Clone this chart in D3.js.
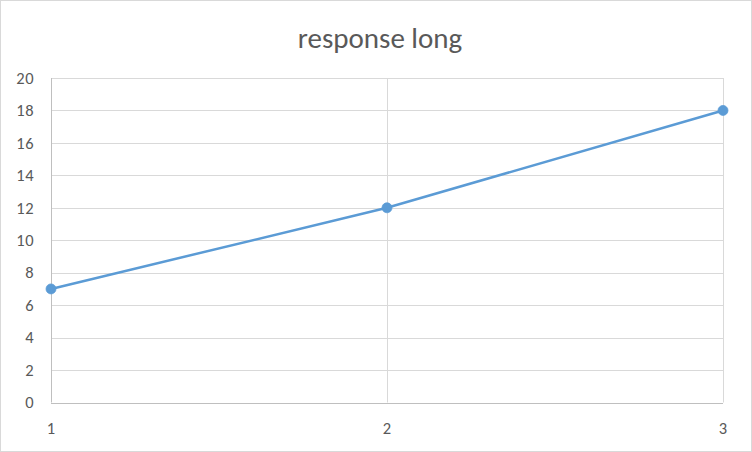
<!DOCTYPE html>
<html><head><meta charset="utf-8">
<script src="https://cdn.jsdelivr.net/npm/d3@7"></script>
<style>html,body{margin:0;padding:0;background:#fff;}</style>
</head><body>
<svg id="c" width="752" height="452"></svg>
<script>
const categories = [1, 2, 3];
const values = [7, 12, 18];
const yTicks = [0, 2, 4, 6, 8, 10, 12, 14, 16, 18, 20];
const title = "response long";

const svg = d3.select("#c");
const W = 752, H = 452;
const m = {left: 51, right: W - 723, top: 78, bottom: H - 402.5};
const font = "Calibri, Carlito, Lato, sans-serif";

svg.append("rect").attr("x", 0.5).attr("y", 0.5).attr("width", W - 1).attr("height", H - 1)
  .attr("fill", "#fff").attr("stroke", "#d9d9d9");

const x = d3.scaleLinear().domain([1, 3]).range([m.left, W - m.right]);
const y = d3.scaleLinear().domain([0, 20]).range([H - m.bottom, m.top]);

const g = svg.append("g");
g.selectAll(".hg").data(yTicks.filter(d => d > 0)).enter().append("line")
  .attr("x1", x(1)).attr("x2", x(3)).attr("y1", d => Math.round(y(d)) + 0.5).attr("y2", d => Math.round(y(d)) + 0.5)
  .attr("stroke", "#d9d9d9").attr("stroke-width", 1);
g.selectAll(".vg").data(categories.filter(d => d > 1)).enter().append("line")
  .attr("x1", d => Math.round(x(d)) + 0.5).attr("x2", d => Math.round(x(d)) + 0.5)
  .attr("y1", y(20)).attr("y2", y(0))
  .attr("stroke", "#d9d9d9").attr("stroke-width", 1);
g.append("line").attr("x1", x(1)).attr("x2", x(3)).attr("y1", Math.round(y(0)) + 0.5).attr("y2", Math.round(y(0)) + 0.5)
  .attr("stroke", "#bfbfbf").attr("stroke-width", 1);
g.append("line").attr("x1", Math.round(x(1)) + 0.5).attr("x2", Math.round(x(1)) + 0.5).attr("y1", y(20)).attr("y2", y(0))
  .attr("stroke", "#bfbfbf").attr("stroke-width", 1);

svg.selectAll(".yl").data(yTicks).enter().append("text")
  .attr("x", 34).attr("y", d => y(d)).attr("dy", "0.35em").attr("text-anchor", "end")
  .attr("font-family", font).attr("font-size", 16.5).attr("letter-spacing", 0.5).attr("fill", "#595959").text(d => d);
svg.selectAll(".xl").data(categories).enter().append("text")
  .attr("x", d => x(d)).attr("y", 428).attr("dy", "0.35em").attr("text-anchor", "middle")
  .attr("font-family", font).attr("font-size", 16.5).attr("fill", "#595959").text(d => d);

svg.append("text").attr("x", 380).attr("y", 38).attr("dy", "0.35em").attr("text-anchor", "middle")
  .attr("font-family", font).attr("font-size", 29).attr("fill", "#595959").text(title);

const data = categories.map((c, i) => ({c, v: values[i]}));
svg.append("path").datum(data)
  .attr("d", d3.line().x(d => x(d.c)).y(d => y(d.v)))
  .attr("fill", "none").attr("stroke", "#5b9bd5").attr("stroke-width", 2.5).attr("stroke-linecap", "round");
svg.selectAll(".pt").data(data).enter().append("circle")
  .attr("cx", d => x(d.c)).attr("cy", d => y(d.v)).attr("r", 5)
  .attr("fill", "#5b9bd5").attr("stroke", "#5b9bd5").attr("stroke-width", 0.75);
</script>
</body></html>
